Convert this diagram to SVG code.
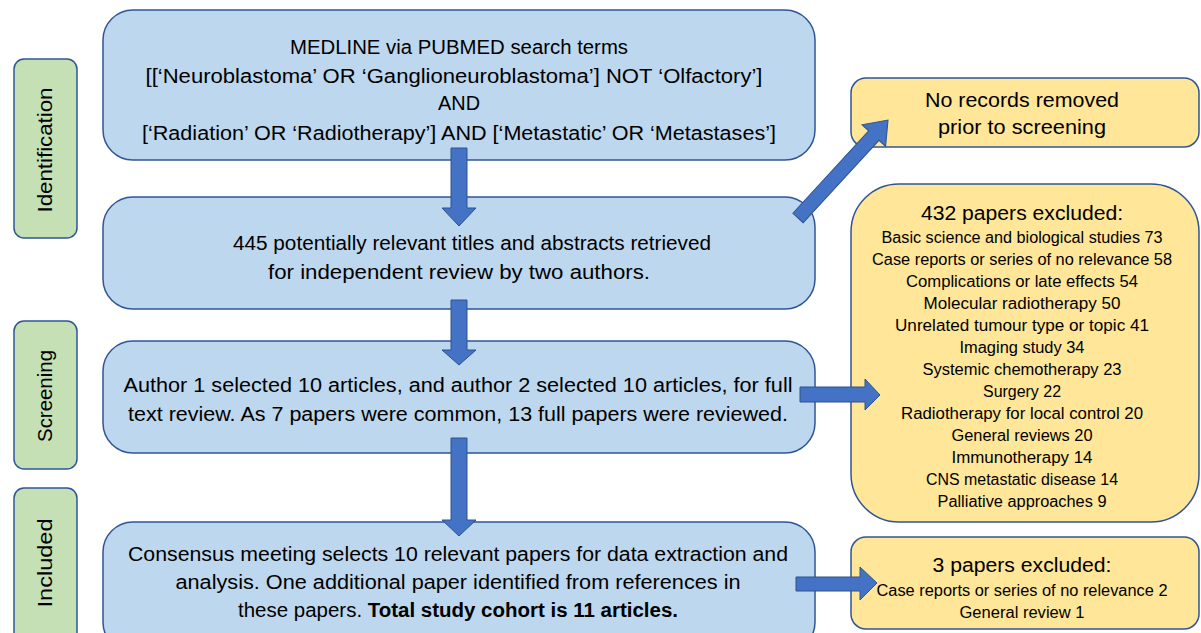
<svg xmlns="http://www.w3.org/2000/svg" width="1201" height="633" viewBox="0 0 1201 633">
<style>
.blue{fill:#BDD7EE;stroke:#2F5597;stroke-width:1.5}
.yellow{fill:#FFE699;stroke:#2F5597;stroke-width:1.5}
.green{fill:#C5E0B4;stroke:#2F5597;stroke-width:1.5}
.arr{fill:#4472C4;stroke:#2F528F;stroke-width:1}
text{font-family:"Liberation Sans",Arial,sans-serif;fill:#000;text-anchor:middle}
.m{font-size:20px}
.s{font-size:16px}
.h{font-size:20px}
.g{font-size:20px}
</style>
<rect width="1201" height="633" fill="#fff"/>
<g id="label-identification">
<rect class="green" x="14" y="59" width="63" height="179" rx="10"/>
<text class="g" transform="translate(52,150) rotate(-90)" textLength="125" lengthAdjust="spacingAndGlyphs">Identification</text>
</g>
<g id="label-screening">
<rect class="green" x="14" y="321" width="63" height="148" rx="10"/>
<text class="g" transform="translate(52,396) rotate(-90)" textLength="92" lengthAdjust="spacingAndGlyphs">Screening</text>
</g>
<g id="label-included">
<rect class="green" x="14" y="488" width="63" height="160" rx="10"/>
<text class="g" transform="translate(52,563) rotate(-90)" textLength="89" lengthAdjust="spacingAndGlyphs">Included</text>
</g>
<g id="search">
<rect class="blue" x="103" y="10" width="712" height="150" rx="30"/>
<text class="m" x="459" y="54" textLength="338" lengthAdjust="spacingAndGlyphs">MEDLINE via PUBMED search terms</text>
<text class="m" x="454" y="83" textLength="617" lengthAdjust="spacingAndGlyphs">[[‘Neuroblastoma’ OR ‘Ganglioneuroblastoma’] NOT ‘Olfactory’]</text>
<text class="m" x="459" y="110" textLength="42" lengthAdjust="spacingAndGlyphs">AND</text>
<text class="m" x="459" y="140" textLength="634" lengthAdjust="spacingAndGlyphs">[‘Radiation’ OR ‘Radiotherapy’] AND [‘Metastatic’ OR ‘Metastases’]</text>
</g>
<g id="retrieved">
<rect class="blue" x="103" y="197" width="712" height="112" rx="30"/>
<text class="m" x="472" y="250" textLength="478" lengthAdjust="spacingAndGlyphs">445 potentially relevant titles and abstracts retrieved</text>
<text class="m" x="459" y="279" textLength="382" lengthAdjust="spacingAndGlyphs">for independent review by two authors.</text>
</g>
<g id="fulltext">
<rect class="blue" x="103" y="341" width="712" height="112" rx="30"/>
<text class="m" x="458" y="392" textLength="669" lengthAdjust="spacingAndGlyphs">Author 1 selected 10 articles, and author 2 selected 10 articles, for full</text>
<text class="m" x="458" y="421" textLength="660" lengthAdjust="spacingAndGlyphs">text review. As 7 papers were common, 13 full papers were reviewed.</text>
</g>
<g id="included">
<rect class="blue" x="103" y="522" width="712" height="130" rx="30"/>
<text class="m" x="458" y="561" textLength="660" lengthAdjust="spacingAndGlyphs">Consensus meeting selects 10 relevant papers for data extraction and</text>
<text class="m" x="458" y="589" textLength="565" lengthAdjust="spacingAndGlyphs">analysis. One additional paper identified from references in</text>
<text class="m" x="458" y="617" textLength="440" lengthAdjust="spacingAndGlyphs">these papers. <tspan font-weight="bold">Total study cohort is 11 articles.</tspan></text>
</g>
<g id="no-records">
<rect class="yellow" x="851" y="78" width="348" height="69" rx="15"/>
<text class="m" x="1022" y="107" textLength="194" lengthAdjust="spacingAndGlyphs">No records removed</text>
<text class="m" x="1022" y="134" textLength="168" lengthAdjust="spacingAndGlyphs">prior to screening</text>
</g>
<g id="excluded-432">
<rect class="yellow" x="851" y="184" width="348" height="338" rx="48"/>
<text class="h" x="1022" y="220" textLength="202" lengthAdjust="spacingAndGlyphs">432 papers excluded:</text>
<text class="s" x="1022" y="243" textLength="281" lengthAdjust="spacingAndGlyphs">Basic science and biological studies 73</text>
<text class="s" x="1022" y="265" textLength="300" lengthAdjust="spacingAndGlyphs">Case reports or series of no relevance 58</text>
<text class="s" x="1022" y="287" textLength="232" lengthAdjust="spacingAndGlyphs">Complications or late effects 54</text>
<text class="s" x="1022" y="309" textLength="197" lengthAdjust="spacingAndGlyphs">Molecular radiotherapy 50</text>
<text class="s" x="1022" y="331" textLength="254" lengthAdjust="spacingAndGlyphs">Unrelated tumour type or topic 41</text>
<text class="s" x="1022" y="353" textLength="125" lengthAdjust="spacingAndGlyphs">Imaging study 34</text>
<text class="s" x="1022" y="375" textLength="199" lengthAdjust="spacingAndGlyphs">Systemic chemotherapy 23</text>
<text class="s" x="1022" y="397" textLength="78" lengthAdjust="spacingAndGlyphs">Surgery 22</text>
<text class="s" x="1022" y="419" textLength="242" lengthAdjust="spacingAndGlyphs">Radiotherapy for local control 20</text>
<text class="s" x="1022" y="441" textLength="141" lengthAdjust="spacingAndGlyphs">General reviews 20</text>
<text class="s" x="1022" y="463" textLength="141" lengthAdjust="spacingAndGlyphs">Immunotherapy 14</text>
<text class="s" x="1022" y="485" textLength="192" lengthAdjust="spacingAndGlyphs">CNS metastatic disease 14</text>
<text class="s" x="1022" y="507" textLength="169" lengthAdjust="spacingAndGlyphs">Palliative approaches 9</text>
</g>
<g id="excluded-3">
<rect class="yellow" x="851" y="537" width="348" height="92" rx="15"/>
<text class="h" x="1022" y="572" textLength="179" lengthAdjust="spacingAndGlyphs">3 papers excluded:</text>
<text class="s" x="1022" y="596" textLength="291" lengthAdjust="spacingAndGlyphs">Case reports or series of no relevance 2</text>
<text class="s" x="1022" y="618" textLength="125" lengthAdjust="spacingAndGlyphs">General review 1</text>
</g>
<g id="connectors">
<polygon class="arr" points="451,148 467,148 467,208 476,208 459,226 442,208 451,208"/>
<polygon class="arr" points="451,300 467,300 467,350 476,350 459,365 442,350 451,350"/>
<polygon class="arr" points="451,438 467,438 467,520 476,520 459,536 442,520 451,520"/>
<polygon class="arr" points="800,387 865,387 865,379 880,395 865,410 865,402 800,402"/>
<polygon class="arr" points="796,577 860,577 860,567 877,583 860,600 860,591 796,591"/>
<polygon class="arr" transform="translate(798,218) rotate(-47.4)" points="0,-7 112,-7 112,-16 133,0 112,16 112,7 0,7"/>
</g>
</svg>
